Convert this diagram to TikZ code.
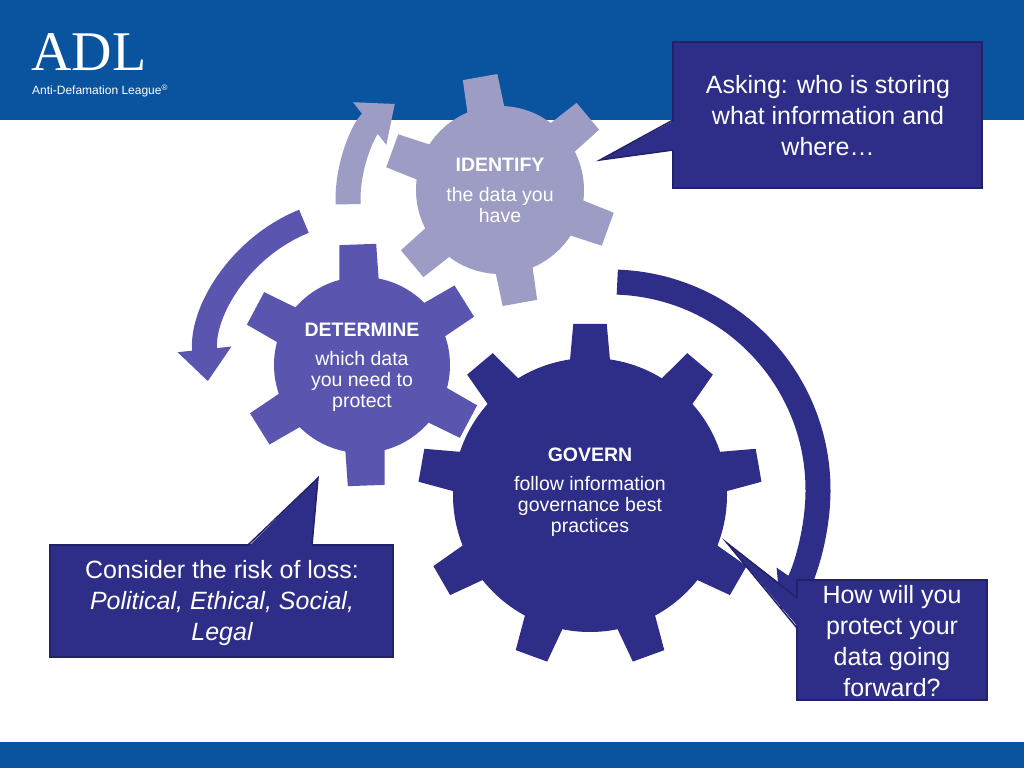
\documentclass[tikz,border=0pt]{standalone}
\usepackage{fontspec}
\setmainfont{Liberation Sans}
\newfontfamily\serifadl{Liberation Serif}
\usetikzlibrary{arrows.meta,calc}
\definecolor{band}{HTML}{0A539E}
\definecolor{gid}{HTML}{9C9CC4}
\definecolor{gdet}{HTML}{5A56B0}
\definecolor{ggov}{HTML}{2E2D88}
\definecolor{boxc}{HTML}{2E2D88}
\definecolor{boxb}{HTML}{22216A}
\tikzset{
 gtitle/.style={text=white,font=\bfseries\fontsize{19.5}{22}\selectfont,align=center},
 gtext/.style={text=white,font=\fontsize{19.5}{21}\selectfont,align=center},
 ctext/.style={text=white,font=\fontsize{25}{31}\selectfont,align=center},
 callout/.style={fill=boxc,draw=boxb,line width=1.5pt},
 cyc/.style={line width=25pt,-{Triangle[length=32pt,width=52pt]}}
}
\newcommand\mygear[8]{%
 \fill[#7] (#1,#2) circle (#3);
 \foreach \i in {1,...,#5}{%
  \pgfmathsetmacro\a{#6+360/#5*\i}
  \fill[#7] ($(#1,#2)+(\a-#8:#3-6)$) -- ($(#1,#2)+(\a-#8*0.62:#4)$) -- ($(#1,#2)+(\a+#8*0.62:#4)$) -- ($(#1,#2)+(\a+#8:#3-6)$) -- cycle;}}
\begin{document}
\begin{tikzpicture}[x=1pt,y=1pt]
\useasboundingbox (0,0) rectangle (1024,768);
\fill[white] (0,0) rectangle (1024,768);
\fill[band] (0,648) rectangle (1024,768);
\fill[band] (0,0) rectangle (1024,26);
% logo
\node[anchor=base west,inner sep=0,text=white,font=\serifadl\fontsize{56}{56}\selectfont] (logo) at (31,697) {ADL};
\node[anchor=base west,inner sep=0,text=white,font=\fontsize{12}{13}\selectfont] (league) at (32,673) {Anti-Defamation League\textsuperscript{®}};
% cycle arrows
\draw[cyc,gid] (470,568) ++(182:122) arc (182:128:122);
\draw[cyc,gdet] (362,403) ++(112:155) arc (112:186:155);
\draw[cyc,ggov] (610,278) ++(88:208) arc (88:-35:208);
% gears
\mygear{500}{578}{84}{116}{6}{40}{gid}{14}
\mygear{362}{403}{88}{122}{6}{32}{gdet}{14}
\mygear{590}{273}{137}{172}{9}{50}{ggov}{9}
\node[gtitle] (idt) at (500,603) {IDENTIFY};
\node[gtext] (idx) at (500,563) {the data you\\have};
\node[gtitle] (dtt) at (362,438) {DETERMINE};
\node[gtext] (dtx) at (362,387) {which data\\you need to\\protect};
\node[gtitle] (gvt) at (590,313) {GOVERN};
\node[gtext] (gvx) at (590,262) {follow information\\governance best\\practices};
% callouts
\coordinate (p1) at (600,608);
\fill[callout] (673,580) rectangle (982,726);
\fill[boxc] (675,648) -- (p1) -- (675,618) -- cycle;
\draw[boxb,line width=1.5pt] (673,648) -- (p1) -- (673,618);
\node[ctext] (c1) at (828,652) {Asking: who is storing\\what information and\\where…};
\coordinate (p2) at (318,290);
\fill[callout] (50,111) rectangle (393,223);
\fill[boxc] (248,221) -- (p2) -- (312,221) -- cycle;
\draw[boxb,line width=1.5pt] (248,223) -- (p2) -- (312,223);
\node[ctext] (c2) at (222,165) {Consider the risk of loss:\\\itshape Political, Ethical, Social,\\\itshape Legal};
\coordinate (p3) at (727,225);
\fill[callout] (797,68) rectangle (987,188);
\fill[boxc] (799,170) -- (p3) -- (799,140) -- cycle;
\draw[boxb,line width=1.5pt] (797,170) -- (p3) -- (797,140);
\node[ctext] (c3) at (892,127) {How will you\\protect your\\data going\\forward?};
\end{tikzpicture}
\end{document}
